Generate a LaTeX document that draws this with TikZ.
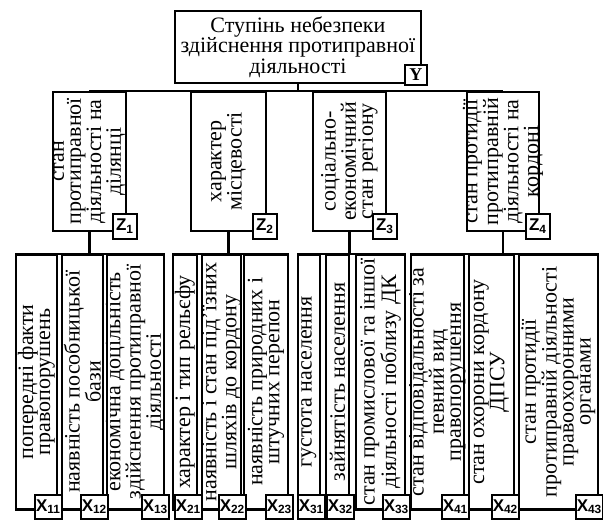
\documentclass[tikz,border=0pt]{standalone}
\usepackage{fontspec}
\setmainfont{Liberation Serif}
\setsansfont{Liberation Sans}
\usetikzlibrary{positioning,calc}

\begin{document}
\begin{tikzpicture}[
    x=1pt, y=-1pt,
    box/.style={rectangle, draw, line width=1.8pt, inner sep=0pt, anchor=north west, minimum height=254pt},
    zbox/.style={box, minimum height=139pt},
    txt/.style={font=\fontsize{22}{17}\selectfont, align=center, inner sep=0pt},
    vtxt/.style={txt, rotate=90},
    tag/.style={rectangle, draw, fill=white, line width=2pt, inner sep=0pt, minimum width=27pt, minimum height=24pt, font=\sffamily\bfseries\fontsize{17}{17}\selectfont},
    bus/.style={line width=2.8pt},
    edge/.style={line width=1.8pt}
]
    \useasboundingbox (0,0) rectangle (603,520);

    % top level
    \node[box, minimum width=246pt, minimum height=72pt, font=\fontsize{22}{17}\selectfont, align=center] (top) at (174,10) {Ступінь небезпеки\\здійснення протиправної\\діяльності};

    % second level
    \node[zbox, minimum width=73pt] (z1) at (52,91) {};
    \node[zbox, minimum width=75pt] (z2) at (190,91) {};
    \node[zbox, minimum width=73pt] (z3) at (312,91) {};
    \node[zbox, minimum width=72pt] (z4) at (466,91) {};
    \node[vtxt] (tz1) at (z1.center) {стан\\протиправної\\діяльності на\\ділянці};
    \node[vtxt] (tz2) at (z2.center) {характер\\місцевості};
    \node[vtxt] (tz3) at (z3.center) {соціально-\\економічний\\стан регіону};
    \node[vtxt] (tz4) at (z4.center) {стан протидії\\протиправній\\діяльності на\\кордоні};

    % third level
    \node[box, minimum width=41pt] (x11) at (15,254) {};
    \node[box, minimum width=41pt] (x12) at (61,254) {};
    \node[box, minimum width=57pt] (x13) at (106,254) {};
    \node[box, minimum width=24pt] (x21) at (172,254) {};
    \node[box, minimum width=39pt] (x22) at (201,254) {};
    \node[box, minimum width=44pt] (x23) at (243,254) {};
    \node[box, minimum width=22pt] (x31) at (297,254) {};
    \node[box, minimum width=23pt] (x32) at (325,254) {};
    \node[box, minimum width=49pt] (x33) at (355,254) {};
    \node[box, minimum width=53pt] (x41) at (410,254) {};
    \node[box, minimum width=45pt] (x42) at (468,254) {};
    \node[box, minimum width=79pt] (x43) at (518,254) {};

    \node[vtxt] (tx11) at (x11.center) {попередні факти\\правопорушень};
    \node[vtxt] (tx12) at (x12.center) {наявність пособницької\\бази};
    \node[vtxt] (tx13) at (x13.center) {економічна доцільність\\здійснення протиправної\\діяльності};
    \node[vtxt] (tx21) at (x21.center) {характер і тип рельєфу};
    \node[vtxt] (tx22) at (x22.center) {наявність і стан під'їзних\\шляхів до кордону};
    \node[vtxt] (tx23) at (x23.center) {наявність природних і\\штучних перепон};
    \node[vtxt] (tx31) at (x31.center) {густота населення};
    \node[vtxt] (tx32) at (x32.center) {зайнятість населення};
    \node[vtxt] (tx33) at (x33.center) {стан промислової та іншої\\діяльності поблизу ДК};
    \node[vtxt] (tx41) at (x41.center) {стан відповідальності за\\певний вид\\правопорушення};
    \node[vtxt] (tx42) at (x42.center) {стан охорони кордону\\ДПСУ};
    \node[vtxt] (tx43) at (x43.center) {стан протидії\\протиправній діяльності\\правоохоронними\\органами};

    % connectors
    \draw[bus] (top.south) -- (top.south |- z1.north);
    \draw[bus] (z1.north) -- (z4.north);
    \draw[bus] (z1.south) -- (z1.south |- x11.north);
    \draw[bus] (z2.south) -- (z2.south |- x21.north);
    \draw[bus] (z3.south) -- (z3.south |- x31.north);
    \draw[bus] (z4.south) -- (z4.south |- x41.north);
    \draw[edge] (x11.north west) -- (x13.north east);
    \draw[edge] (x11.south west) -- (x13.south east);
    \draw[edge] (x21.north west) -- (x23.north east);
    \draw[edge] (x21.south west) -- (x23.south east);
    \draw[edge] (x31.north west) -- (x33.north east);
    \draw[edge] (x31.south west) -- (x33.south east);
    \draw[edge] (x41.north west) -- (x43.north east);
    \draw[edge] (x41.south west) -- (x43.south east);

    % tags
    \node[tag, minimum width=22pt, minimum height=20pt, font=\bfseries\fontsize{18}{18}\selectfont] (ty) at ([xshift=-6pt, yshift=9pt]top.south east) {Y};
    \node[tag, minimum width=24pt, minimum height=25pt] (lz1) at ([xshift=-2pt, yshift=5.5pt]z1.south east) {Z\textsubscript{1}};
    \node[tag, minimum width=24pt, minimum height=25pt] (lz2) at ([xshift=-2pt, yshift=5.5pt]z2.south east) {Z\textsubscript{2}};
    \node[tag, minimum width=24pt, minimum height=25pt] (lz3) at ([xshift=-2pt, yshift=5.5pt]z3.south east) {Z\textsubscript{3}};
    \node[tag, minimum width=24pt, minimum height=25pt] (lz4) at ([xshift=-2pt, yshift=5.5pt]z4.south east) {Z\textsubscript{4}};
    \node[tag] (lx11) at ([xshift=-9.5pt, yshift=3pt]x11.south east) {X\textsubscript{11}};
    \node[tag] (lx12) at ([xshift=-9.5pt, yshift=3pt]x12.south east) {X\textsubscript{12}};
    \node[tag] (lx13) at ([xshift=-9.5pt, yshift=3pt]x13.south east) {X\textsubscript{13}};
    \node[tag] (lx21) at ([xshift=-9.5pt, yshift=3pt]x21.south east) {X\textsubscript{21}};
    \node[tag] (lx22) at ([xshift=-9.5pt, yshift=3pt]x22.south east) {X\textsubscript{22}};
    \node[tag] (lx23) at ([xshift=-9.5pt, yshift=3pt]x23.south east) {X\textsubscript{23}};
    \node[tag] (lx31) at ([xshift=-9.5pt, yshift=3pt]x31.south east) {X\textsubscript{31}};
    \node[tag] (lx32) at ([xshift=-9.5pt, yshift=3pt]x32.south east) {X\textsubscript{32}};
    \node[tag] (lx33) at ([xshift=-9.5pt, yshift=3pt]x33.south east) {X\textsubscript{33}};
    \node[tag] (lx41) at ([xshift=-9.5pt, yshift=3pt]x41.south east) {X\textsubscript{41}};
    \node[tag] (lx42) at ([xshift=-9.5pt, yshift=3pt]x42.south east) {X\textsubscript{42}};
    \node[tag] (lx43) at ([xshift=-9.5pt, yshift=3pt]x43.south east) {X\textsubscript{43}};
\end{tikzpicture}
\end{document}
